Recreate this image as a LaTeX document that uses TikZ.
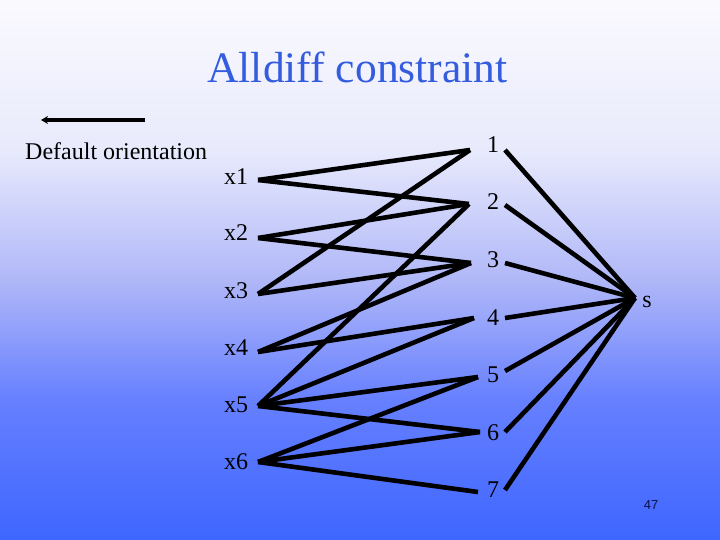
\documentclass[tikz,border=0pt]{standalone}
\usepackage{fontspec}
\setmainfont{Liberation Serif}
\newfontfamily\numfont{Liberation Sans}
\usetikzlibrary{arrows.meta}
\definecolor{titleblue}{RGB}{52,92,222}
\definecolor{pagenum}{RGB}{16,16,80}
\pgfdeclareverticalshading{slidebg}{100bp}{%
  rgb(0bp)=(0.243,0.4,1);
  rgb(25bp)=(0.243,0.4,1);
  rgb(37.96bp)=(0.4,0.5,1);
  rgb(49.07bp)=(0.69,0.72,0.972);
  rgb(61.1bp)=(0.91,0.918,0.988);
  rgb(75bp)=(0.98,0.98,0.996);
  rgb(100bp)=(0.98,0.98,0.996)}
\begin{document}
\begin{tikzpicture}[x=1pt,y=-1pt,
  lbl/.style={inner sep=0pt,font=\fontsize{24}{24}\selectfont},
  edge/.style={line width=4.6pt,black},
  ]
\useasboundingbox (0,0) rectangle (720,540);
\shade[shading=slidebg] (0,0) rectangle (720,540);
\node[anchor=base,text=titleblue,inner sep=0pt,font=\fontsize{43.5}{44}\selectfont] (title) at (357.5,83) {Alldiff constraint};
% legend
\coordinate (arrS) at (145,120);
\coordinate (arrE) at (41,120);
\draw[line width=4.2pt,-{Stealth[length=7pt,width=8pt]}] (arrS) -- (arrE);
\node[lbl,anchor=base west] (def) at (25,160) {Default orientation};
% variable labels
\foreach \i/\y in {1/177,2/233,3/291,4/348,5/405,6/462}{
  \node[lbl] (x\i) at (236,\y) {x\i};
}
% value labels
\foreach \i/\y in {1/145,2/202,3/260,4/318,5/375,6/433,7/490}{
  \node[lbl] (v\i) at (493,\y) {\i};
}
\node[lbl] (s) at (647,302) {s};
\node[inner sep=0pt,text=pagenum,font=\numfont\fontsize{13}{13}\selectfont] (pg) at (651,505) {47};
% endpoints
\coordinate (L1) at (258,180);
\coordinate (L2) at (258,238);
\coordinate (L3) at (258,294);
\coordinate (L4) at (258,352);
\coordinate (L5) at (258,406);
\coordinate (L6) at (258,462);
\coordinate (R1) at (470,150);
\coordinate (R2) at (469,204);
\coordinate (R3) at (471,263);
\coordinate (R4) at (474,318);
\coordinate (R5) at (478,377);
\coordinate (R6) at (480,432);
\coordinate (R7) at (478,492);
\coordinate (M1) at (505,150);
\coordinate (M2) at (505,205);
\coordinate (M3) at (505,263);
\coordinate (M4) at (505,318);
\coordinate (M5) at (505,371);
\coordinate (M6) at (505,432);
\coordinate (M7) at (505,490);
\coordinate (S) at (635,298);
% variable-value edges
\foreach \a/\b in {1/1,1/2,2/2,2/3,3/1,3/3,4/3,4/4,5/2,5/4,5/5,5/6,6/5,6/6,6/7}{
  \draw[edge] (L\a) -- (R\b);
}
% value-sink edges
\foreach \b in {1,...,7}{
  \draw[edge] (M\b) -- (S);
}
\end{tikzpicture}
\end{document}
